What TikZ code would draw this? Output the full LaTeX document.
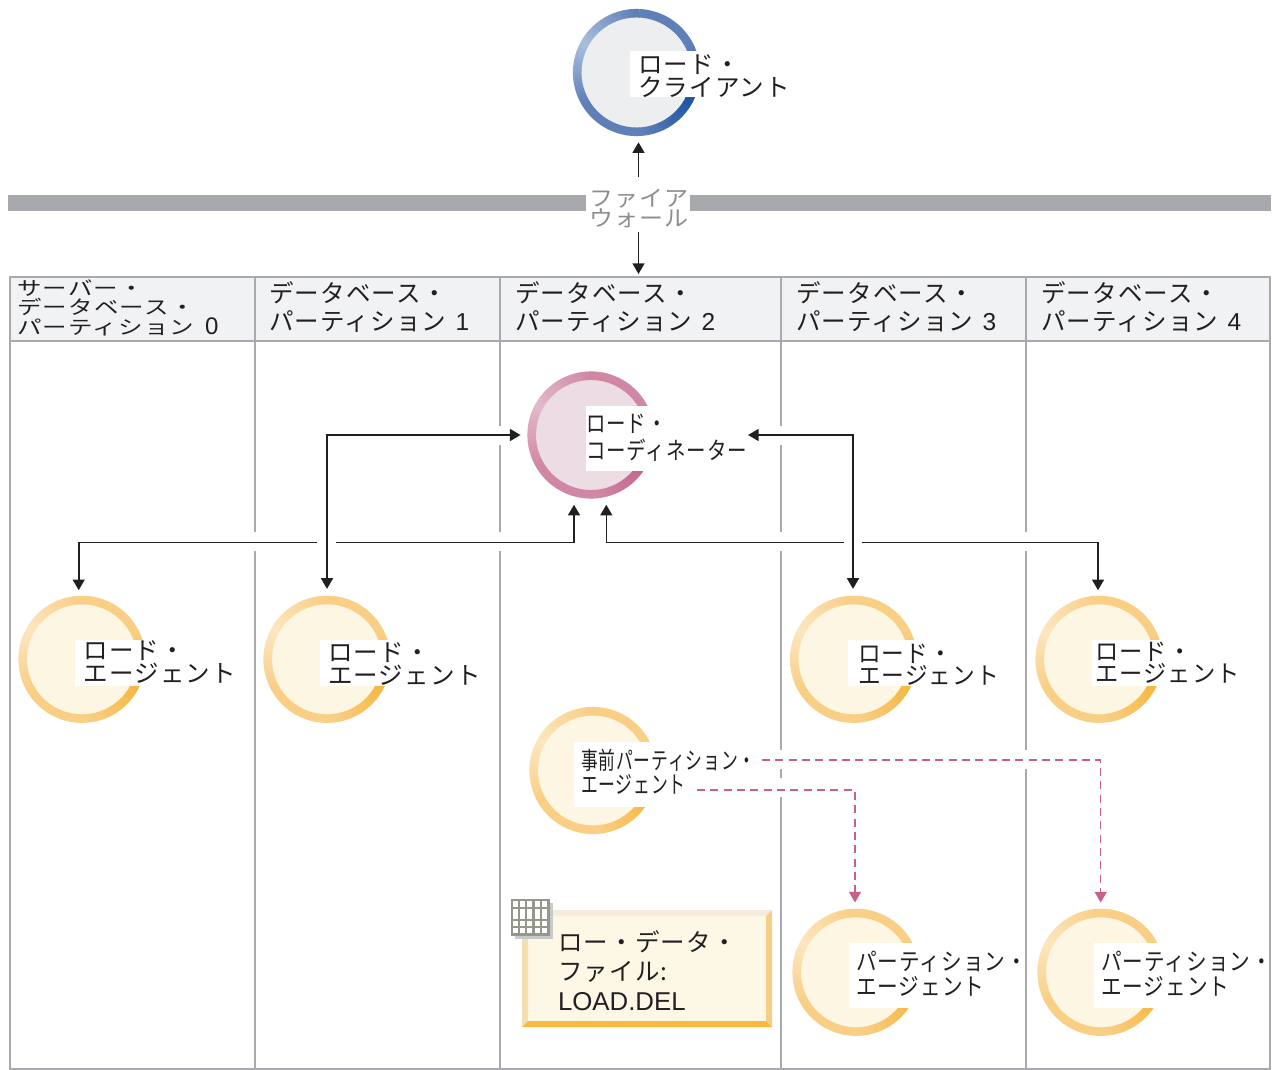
\documentclass[tikz,border=0pt]{standalone}
\usepackage{fontspec}
\setmainfont[LetterSpace=5]{Noto Sans CJK JP}
\newfontfamily\latinfont{Liberation Sans}
\usetikzlibrary{arrows.meta,calc}
\definecolor{ink}{HTML}{231F20}
\definecolor{rule}{HTML}{A9AAAE}
\definecolor{headfill}{HTML}{F1F2F3}
\definecolor{barcol}{HTML}{A7A8AB}
\definecolor{fwtext}{HTML}{8C8D90}
\definecolor{pinkline}{HTML}{C8608A}
\definecolor{bevT}{HTML}{F5ECDC}
\definecolor{bevL}{HTML}{F5DEB0}
\definecolor{bevR}{HTML}{F5CF8A}
\definecolor{bevB}{HTML}{F9B93F}
\definecolor{iconline}{HTML}{96978A}
\definecolor{iconshadow}{HTML}{C8C9C9}
\definecolor{boxfill}{HTML}{FDF8E6}
\definecolor{blueL}{HTML}{A9BEDD}\definecolor{blueM}{HTML}{5E7FB8}\definecolor{blueD}{HTML}{1E55A3}\definecolor{blueF}{HTML}{EDEEF0}
\definecolor{roseL}{HTML}{E3B9CB}\definecolor{roseM}{HTML}{D087A5}\definecolor{roseD}{HTML}{C5608A}\definecolor{roseF}{HTML}{EBDDE3}
\definecolor{goldL}{HTML}{FCE6C0}\definecolor{goldM}{HTML}{F9CE85}\definecolor{goldD}{HTML}{F7B843}\definecolor{goldF}{HTML}{FDF6E3}
\newcommand{\fpx}[1]{\pgfmathsetmacro\fz{#1*0.75}\fontsize{\fz pt}{\fz pt}\selectfont}
\newcommand{\RingDisc}[4]{%
  \node[disc,fill=#4F] (#1) at (#2,#3) {};
  \begin{scope}[shift={(#2,#3)}]
  \foreach \a in {0,3,...,357}{%
    \pgfmathsetmacro\m{mod(\a-150+720,360)}%
    \pgfmathsetmacro\d{180-abs(\m-180)}%
    \pgfmathsetmacro\pa{min(100,\d/60*100)}%
    \pgfmathsetmacro\pb{max(0,(\d-125)/55*100)}%
    \pgfmathsetmacro\e{-\a-3.4}%
    \pgfmathsetmacro\s{-\a}%
    \colorlet{segc}{#4M!\pa!#4L}%
    \colorlet{segd}{#4D!\pb!segc}%
    \draw[segd,line width=6.4pt] (\s:59.3) -- (\e:59.3);
  }
  \end{scope}}
\newcommand{\Patch}[4]{\fill[white] (#1,#3) rectangle (#2,#4);}
\newcommand{\Sq}[1]{\scalebox{1.02}[.8]{#1}}
\tikzset{
  disc/.style={circle,minimum size=95.25pt,inner sep=0pt,draw=none},
  lab/.style={anchor=base west,inner sep=0pt,outer sep=0pt,align=left,text=ink,font=\fpx{24.5}},
  labm/.style={lab,font=\fpx{24}},
  arr/.style={draw=ink,line width=1.2pt,-{Triangle[length=8pt,width=9pt]}},
  biarr/.style={draw=ink,line width=1.2pt,{Triangle[length=8pt,width=9pt]}-{Triangle[length=8pt,width=9pt]}},
  dashline/.style={draw=pinkline,line width=1.1pt,dash pattern=on 6pt off 4pt},
  dasharr/.style={dashline,-{Triangle[length=8pt,width=9pt]}},
  gridline/.style={draw=rule,line width=1.9pt},
}
\begin{document}
\begin{tikzpicture}[x=0.75pt,y=-0.75pt]
\useasboundingbox (0,0) rectangle (1275,1070);
% header band
\fill[headfill] (10,277) rectangle (1270,341);
% firewall bar
\fill[barcol] (8,195) rectangle (586,211);
\fill[barcol] (690,195) rectangle (1271,211);
% frame and columns
\draw[gridline] (10,277) rectangle (1270,1069);
\draw[gridline] (10,341) -- (1270,341);
\draw[gridline] (255,277) -- (255,532) (255,551) -- (255,1069);
\draw[gridline] (500,277) -- (500,426) (500,445) -- (500,532) (500,551) -- (500,1069);
\draw[gridline] (781,277) -- (781,426) (781,445) -- (781,532) (781,551) -- (781,750) (781,769) -- (781,778) (781,797) -- (781,1069);
\draw[gridline] (1026,277) -- (1026,532) (1026,551) -- (1026,750) (1026,769) -- (1026,1069);
% discs
\RingDisc{client}{636.5}{72.5}{blue}
\RingDisc{coord}{591}{435}{rose}
\RingDisc{agent0}{82}{659.3}{gold}
\RingDisc{agent1}{327}{659.3}{gold}
\RingDisc{agent3}{853.5}{659.3}{gold}
\RingDisc{agent4}{1099}{659.3}{gold}
\RingDisc{prepart}{593}{770.5}{gold}
\RingDisc{part3}{856}{972.3}{gold}
\RingDisc{part4}{1101}{972.3}{gold}
% white text patches
\Patch{630}{701}{51}{97}
\Patch{586}{656}{406}{471}
\Patch{75}{147}{640}{686}
\Patch{320}{392}{640}{686}
\Patch{848}{919}{640}{686}
\Patch{1092}{1164}{640}{686}
\Patch{574}{658}{742}{807}
\Patch{849}{921}{943}{1008}
\Patch{1094}{1166}{943}{1008}
% raw data box
\fill[boxfill] (528,916) rectangle (766,1021);
\fill[bevT] (522,910) -- (772,910) -- (766,916) -- (528,916) -- cycle;
\fill[bevL] (522,910) -- (528,916) -- (528,1021) -- (522,1027) -- cycle;
\fill[bevR] (772,910) -- (766,916) -- (766,1021) -- (772,1027) -- cycle;
\fill[bevB] (522,1027) -- (528,1021) -- (766,1021) -- (772,1027) -- cycle;
% table icon
\fill[iconshadow] (515,903) rectangle (553,939);
\fill[white] (511,899) rectangle (549,935);
\draw[iconline,line width=1.9pt] (512,900) rectangle (548.5,934.5);
\foreach \vx in {519,526,533.5,541}{\draw[iconline,line width=1.6pt] (\vx,900) -- (\vx,934.5);}
\foreach \hy in {908,920,927}{\draw[iconline,line width=1.6pt] (512,\hy) -- (548.5,\hy);}
% texts
\node[lab] (tclient) at (638,97) {ロード・\\[-1pt]クライアント};
\node[labm,text=fwtext] (fw) at (589,227) {\scalebox{1}[.92]{ファイア}\\[-2.25pt]\scalebox{1}[.92]{ウォール}};
\node[labm] (h0) at (17,334) {\Sq{サーバー・}\\[-3.4pt]\Sq{データベース・}\\[-3.4pt]\Sq{パーティション}\hspace{.45em}{\latinfont 0}};
\node[lab] (h1) at (269,330) {データベース・\\[2pt]パーティション\hspace{.38em}{\latinfont 1}};
\node[lab] (h2) at (515,330) {データベース・\\[2pt]パーティション\hspace{.38em}{\latinfont 2}};
\node[lab] (h3) at (796,330) {データベース・\\[2pt]パーティション\hspace{.38em}{\latinfont 3}};
\node[lab] (h4) at (1041,330) {データベース・\\[2pt]パーティション\hspace{.38em}{\latinfont 4}};
\node[labm] (tcoord) at (586,459) {\scalebox{.81}[1]{ロード・}\\[2.25pt]\scalebox{.81}[1]{コーディネーター}};
\node[lab] (ta0) at (83.5,682) {ロード・\\[-1.5pt]エージェント};
\node[lab] (ta1) at (328,684) {ロード・\\[-1.5pt]エージェント};
\node[labm] (ta3) at (858,684) {\scalebox{.945}[1]{ロード・}\\[-1.5pt]\scalebox{.945}[1]{エージェント}};
\node[labm] (ta4) at (1095,682) {\scalebox{.97}[1]{ロード・}\\[-1.5pt]\scalebox{.97}[1]{エージェント}};
\node[labm] (tpre) at (581,793) {\scalebox{.70}[1]{事前パーティション・}\\[0pt]\scalebox{.70}[1]{エージェント}};
\node[labm] (tp3) at (856,995) {\scalebox{.86}[1]{パーティション・}\\[.75pt]\scalebox{.86}[1]{エージェント}};
\node[labm] (tp4) at (1101,995) {\scalebox{.86}[1]{パーティション・}\\[.75pt]\scalebox{.86}[1]{エージェント}};
\node[lab] (tdata) at (558,1010) {ロー・データ・\\[3.4pt]ファイル:\\[3.4pt]{\latinfont\fpx{25.8}LOAD.DEL}};
% connector anchors
\coordinate (fwN) at (638.5,177);
\coordinate (fwS) at (638.5,232);
\coordinate (frameT) at (638.5,274);
\coordinate (c1) at (327,435);
\coordinate (c3) at (853,435);
\coordinate (cL) at (748,435);
\coordinate (L0) at (78.7,542.5);
\coordinate (Lb1) at (316.7,542.5);
\coordinate (Lb2) at (336,542.5);
\coordinate (Lu) at (574,542.5);
\coordinate (Ru) at (606.3,542.5);
\coordinate (Rb1) at (843.5,542.5);
\coordinate (Rb2) at (862.3,542.5);
\coordinate (R4) at (1098,542.5);
\coordinate (d1s) at (762,760);
\coordinate (d1c) at (1100.7,760);
\coordinate (d2s) at (697,790);
\coordinate (d2c) at (855,790);
% connectors
\draw[arr,shorten >=4.5pt] (fwN) -- (fwN |- client.south);
\draw[arr] (fwS) -- (frameT);
\draw[biarr,shorten <=5pt,shorten >=5pt] (c1 |- agent1.north) -- (c1) -- (coord.west |- c1);
\draw[biarr,shorten >=5pt] (cL) -- (c3) -- (c3 |- agent3.north);
\draw[arr,shorten >=4pt] (Lb1) -- (L0) -- (L0 |- agent0.north);
\draw[arr,shorten >=4.5pt] (Lb2) -- (Lu) -- (Lu |- coord.south);
\draw[arr,shorten >=4.5pt] (Rb1) -- (Ru) -- (Ru |- coord.south);
\draw[arr,shorten >=4pt] (Rb2) -- (R4) -- (R4 |- agent4.north);
\draw[dasharr,shorten >=4.5pt] (d1s) -- (d1c) -- (d1c |- part4.north);
\draw[dasharr,shorten >=4.5pt] (d2s) -- (d2c) -- (d2c |- part3.north);
\end{tikzpicture}
\end{document}
